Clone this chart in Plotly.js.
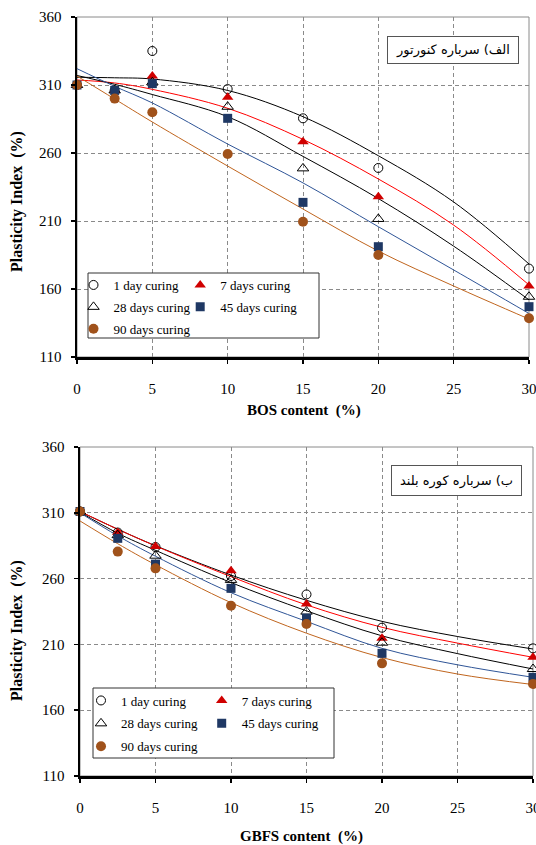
<!DOCTYPE html>
<html><head><meta charset="utf-8">
<script src="https://cdn.plot.ly/plotly-3.0.1.min.js"></script>
<style>html,body{margin:0;padding:0;background:#fff}#chart{width:536px;height:845px}</style>
</head><body><div id="chart"></div>
<script>
// ---------- data ----------
const content = [0, 2.5, 5, 10, 15, 20, 30];
const curveX = [0, 2.5, 5, 10, 15, 20, 25, 30];
const seriesNames = ['1 day curing', '7 days curing', '28 days curing', '45 days curing', '90 days curing'];
const xTicks = [0, 5, 10, 15, 20, 25, 30];
const yTicks = [110, 160, 210, 260, 310, 360];

// (a) BOS - measured points
const bos1d = [310, 306, 335, 307, 285.5, 249, 175];
const bos7d = [310, 306, 316.6, 301, 268.3, 227.9, 162.2];
const bos28d = [310, 306, 312, 294, 248.7, 211.5, 154.3];
const bos45d = [310, 306, 311, 285.5, 223.7, 191.1, 147];
const bos90d = [310, 300, 290, 259.3, 209.5, 185, 138.5];
// (a) BOS - trend curves
const bosFit1d = [315.7, 315.3, 314.4, 306, 286.7, 258, 224, 178.4];
const bosFit7d = [313.7, 311.5, 306.8, 292.9, 270, 240.9, 207, 163];
const bosFit28d = [317, 310.5, 303, 286.7, 257.5, 226.5, 191.5, 152];
const bosFit45d = [322, 309, 296.8, 266.6, 238, 205.8, 174, 142];
const bosFit90d = [316.6, 299.7, 282.8, 250.4, 218.8, 187.9, 162.2, 137.9];

// (b) GBFS - measured points
const gb1d = [311, 295, 284, 262, 248, 222.7, 207];
const gb7d = [311, 295, 284.3, 266, 240.7, 214.6, 200.2];
const gb28d = [311, 293, 277.4, 259, 234.9, 211.3, 191.3];
const gb45d = [311, 290.6, 271, 252.6, 230, 203.2, 185];
const gb90d = [311, 280.5, 267.8, 239.4, 225.5, 195.6, 180];
// (b) GBFS - trend curves
const gbFit1d = [311, 297.5, 285, 262.7, 243.5, 227.5, 216, 206.5];
const gbFit7d = [311, 297.5, 284.8, 261.5, 240, 223, 211, 200.2];
const gbFit28d = [310.5, 294.5, 281.5, 257, 235.5, 216.5, 203, 191.3];
const gbFit45d = [310, 292.5, 277, 249.3, 227.5, 207, 194.5, 185];
const gbFit90d = [303.8, 286.5, 270.5, 241.7, 218.5, 200, 187.5, 179.5];

const panelTitles = ['الف) سرباره کنورتور', 'ب) سرباره کوره بلند'];
const xTitles = ['BOS content  (%)', 'GBFS content  (%)'];
const yTitle = 'Plasticity Index  (%)';

// ---------- styles ----------
const W = 536, H = 845;
const px = v => v / W;
const py = v => 1 - v / H;
const SERIF = 'Liberation Serif';

const markerStyles = [
  {symbol: 'circle-open', color: '#000', size: 9, line: {width: 1, color: '#000'}},
  {symbol: 'triangle-up', color: '#D00000', size: 10},
  {symbol: 'triangle-up-open', color: '#000', size: 10, line: {width: 1, color: '#000'}},
  {symbol: 'square', color: '#1F3864', size: 9},
  {symbol: 'circle', color: '#A0521B', size: 10}
];
const lineColors = ['#000000', '#FF0000', '#000000', '#2F5597', '#C0651E'];

const panels = [
  {pts: [bos1d, bos7d, bos28d, bos45d, bos90d], fits: [bosFit1d, bosFit7d, bosFit28d, bosFit45d, bosFit90d], xa: 'x', ya: 'y',
   legL: 'legend', legR: 'legend2'},
  {pts: [gb1d, gb7d, gb28d, gb45d, gb90d], fits: [gbFit1d, gbFit7d, gbFit28d, gbFit45d, gbFit90d], xa: 'x2', ya: 'y2',
   legL: 'legend3', legR: 'legend4'}
];

const traces = [];
panels.forEach(p => {
  p.fits.forEach((f, i) => {
    traces.push({x: curveX, y: f, xaxis: p.xa, yaxis: p.ya, mode: 'lines', showlegend: false,
      line: {color: lineColors[i], width: 1, shape: 'spline', smoothing: 1}, cliponaxis: false, hoverinfo: 'skip'});
  });
  p.pts.forEach((v, i) => {
    traces.push({x: content, y: v, xaxis: p.xa, yaxis: p.ya, mode: 'markers', name: seriesNames[i],
      marker: markerStyles[i], cliponaxis: false,
      legend: (i % 2 === 0) ? p.legL : p.legR, legendgroup: p.xa + 'g' + i});
  });
});

function xAxis(domain, anchor) {
  return {domain: domain, anchor: anchor, range: [0, 30], tickvals: xTicks, ticks: 'outside', ticklen: 4,
    tickwidth: 1.5, tickcolor: '#000', showline: true, linecolor: '#000', linewidth: 2.5, showgrid: true,
    gridcolor: '#8a8a8a', gridwidth: 1, griddash: '4px,3px', zeroline: false, ticklabelstandoff: 12,
    ticklabeloverflow: 'allow',
    tickfont: {family: SERIF, size: 15, color: '#000'}, fixedrange: true};
}
function yAxis(domain, anchor) {
  return {domain: domain, anchor: anchor, range: [110, 360], tickvals: yTicks, ticks: 'outside', ticklen: 4,
    tickwidth: 1.5, tickcolor: '#000', showline: true, linecolor: '#000', linewidth: 2.5, showgrid: true,
    gridcolor: '#8a8a8a', gridwidth: 1, griddash: '4px,3px', zeroline: false, ticklabelstandoff: 6,
    ticklabeloverflow: 'allow',
    tickfont: {family: SERIF, size: 15, color: '#000'}, fixedrange: true};
}
function legend(markerX, yTop, gap) {
  return {x: px(markerX - 20), y: py(yTop), xanchor: 'left', yanchor: 'top', orientation: 'v',
    bgcolor: 'rgba(0,0,0,0)', borderwidth: 0, traceorder: 'grouped', tracegroupgap: gap, indentation: -13.5,
    font: {family: SERIF, size: 13, color: '#000'}};
}

const layout = {
  width: W, height: H, margin: {l: 0, r: 0, t: 0, b: 0}, paper_bgcolor: '#fff', plot_bgcolor: '#fff',
  font: {family: SERIF, size: 13, color: '#000'},
  showlegend: true,
  xaxis: xAxis([px(77), px(529)], 'y'),
  yaxis: yAxis([py(357), py(17)], 'x'),
  xaxis2: xAxis([px(80), px(533)], 'y2'),
  yaxis2: yAxis([py(776), py(447)], 'x2'),
  legend: legend(107, 270, 2),
  legend2: legend(213.7, 270, 2),
  legend3: legend(114.5, 685.5, 3),
  legend4: legend(235.2, 685.5, 3),
  shapes: [
    {type: 'rect', xref: 'x domain', yref: 'y domain', x0: 0, x1: 1, y0: 0, y1: 1, line: {color: '#8a8a8a', width: 1}, layer: 'below'},
    {type: 'rect', xref: 'x2 domain', yref: 'y2 domain', x0: 0, x1: 1, y0: 0, y1: 1, line: {color: '#8a8a8a', width: 1}, layer: 'below'},
    {type: 'rect', xref: 'paper', yref: 'paper', x0: px(88), x1: px(319), y0: py(338), y1: py(273), fillcolor: '#fff', line: {color: '#333', width: 1}, layer: 'above'},
    {type: 'rect', xref: 'paper', yref: 'paper', x0: px(93), x1: px(334), y0: py(758), y1: py(688), fillcolor: '#fff', line: {color: '#333', width: 1}, layer: 'above'}
  ],
  annotations: [
    {text: panelTitles[0], xref: 'paper', yref: 'paper', x: px(453), y: py(50), xanchor: 'center', yanchor: 'middle', showarrow: false,
     font: {family: 'DejaVu Sans', size: 13, color: '#000'}, bgcolor: '#fff', bordercolor: '#555', borderwidth: 1, borderpad: 3, width: 124, height: 20},
    {text: panelTitles[1], xref: 'paper', yref: 'paper', x: px(456.5), y: py(480.5), xanchor: 'center', yanchor: 'middle', showarrow: false,
     font: {family: 'DejaVu Sans', size: 13, color: '#000'}, bgcolor: '#fff', bordercolor: '#555', borderwidth: 1, borderpad: 3, width: 123, height: 23},
    {text: '<b>' + yTitle + '</b>', xref: 'paper', yref: 'paper', x: px(17), y: py(202), textangle: -90, showarrow: false,
     xanchor: 'center', yanchor: 'middle', font: {family: SERIF, size: 16, color: '#000'}},
    {text: '<b>' + yTitle + '</b>', xref: 'paper', yref: 'paper', x: px(17), y: py(631), textangle: -90, showarrow: false,
     xanchor: 'center', yanchor: 'middle', font: {family: SERIF, size: 16, color: '#000'}},
    {text: '<b>' + xTitles[0] + '</b>', xref: 'paper', yref: 'paper', x: px(304), y: py(410), showarrow: false,
     xanchor: 'center', yanchor: 'middle', font: {family: SERIF, size: 15, color: '#000'}},
    {text: '<b>' + xTitles[1] + '</b>', xref: 'paper', yref: 'paper', x: px(301), y: py(836.5), showarrow: false,
     xanchor: 'center', yanchor: 'middle', font: {family: SERIF, size: 15, color: '#000'}}
  ]
};

Plotly.newPlot('chart', traces, layout, {displayModeBar: false, staticPlot: true});
</script>
</body></html>
